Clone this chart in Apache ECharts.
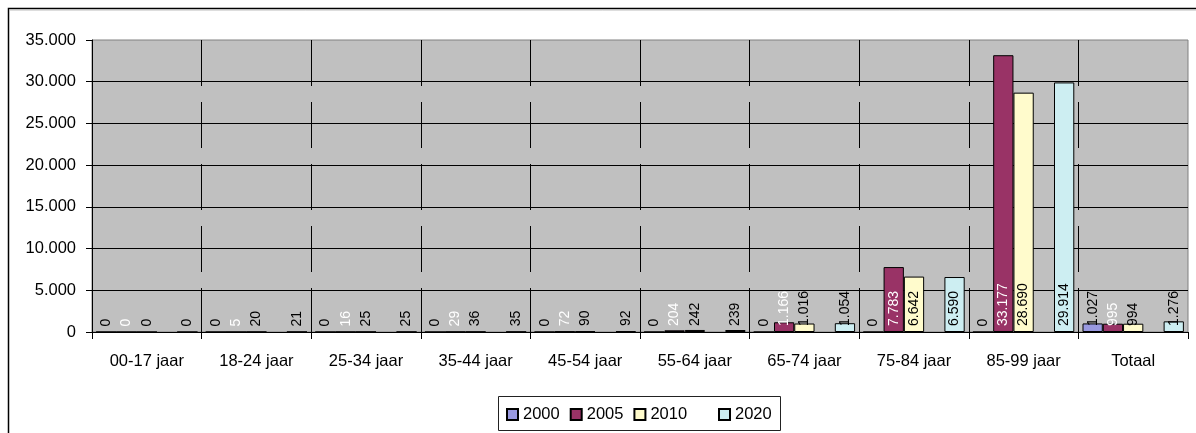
<!DOCTYPE html>
<html>
<head>
<meta charset="utf-8">
<script src="https://cdn.jsdelivr.net/npm/echarts@6/dist/echarts.min.js"></script>
<style>
html,body{margin:0;padding:0;background:#fff;}
#c{width:1196px;height:433px;}
</style>
</head>
<body>
<div id="c"></div>
<script>
const categories = ['00-17 jaar','18-24 jaar','25-34 jaar','35-44 jaar','45-54 jaar','55-64 jaar','65-74 jaar','75-84 jaar','85-99 jaar','Totaal'];
const s2000 = [0,0,0,0,0,0,0,0,0,1027];
const s2005 = [0,5,16,29,72,204,1166,7783,33177,995];
const s2010 = [0,20,25,36,90,242,1016,6642,28690,994];
const sBlank = ['-','-','-','-','-','-','-','-','-','-'];
const s2020 = [0,21,25,35,92,239,1054,6590,29914,1276];
const yTicks = [0,5000,10000,15000,20000,25000,30000,35000];

const FONT = "'Liberation Sans', Arial, sans-serif";
function fmt(v){
  return String(Math.round(v)).replace(/\B(?=(\d{3})+(?!\d))/g, '.');
}
function mkSeries(name, data, color, labelColor){
  return {
    name: name, type: 'bar', data: data,
    barGap: '0%', barCategoryGap: '7.5%',
    itemStyle: {color: color, borderColor: '#000', borderWidth: 1},
    emphasis: {disabled: true},
    label: {
      show: true, rotate: 90, position: 'insideBottom', align: 'left', verticalAlign: 'middle',
      distance: 6, fontSize: 14, fontFamily: FONT, color: labelColor,
      formatter: p => fmt(p.value)
    }
  };
}
const chart = echarts.init(document.getElementById('c'));
chart.setOption({
  animation: false,
  backgroundColor: '#fff',
  grid: {left: 92, top: 40, right: 8, bottom: 101, show: true, backgroundColor: '#c0c0c0', borderColor: '#808080', borderWidth: 1},
  xAxis: {
    type: 'category', data: categories,
    axisLine: {lineStyle: {color: '#000', width: 1}},
    axisTick: {show: true, length: 7, lineStyle: {color: '#000'}},
    axisLabel: {interval: 0, fontSize: 16.5, fontFamily: FONT, color: '#000', margin: 21},
    splitLine: {show: true, showMinLine: false, showMaxLine: false, lineStyle: {color: '#000', width: 1, type: [46, 16]}}
  },
  yAxis: {
    type: 'value', min: yTicks[0], max: yTicks[yTicks.length-1], interval: yTicks[1]-yTicks[0],
    axisLine: {show: true, lineStyle: {color: '#000'}},
    axisTick: {show: true, length: 6, lineStyle: {color: '#000'}},
    axisLabel: {fontSize: 16.5, fontFamily: FONT, color: '#000', margin: 16, formatter: v => fmt(v)},
    splitLine: {show: true, showMaxLine: false, lineStyle: {color: '#000', width: 1}}
  },
  legend: [
    {data: ['2000','2005','2010'], left: 506, top: 406, padding: 0, itemWidth: 11, itemHeight: 11, itemGap: 10, icon: 'rect', selectedMode: false,
     textStyle: {fontSize: 16.5, fontFamily: FONT, color: '#000'}},
    {data: ['2020'], left: 718, top: 406, padding: 0, itemWidth: 11, itemHeight: 11, icon: 'rect', selectedMode: false,
     textStyle: {fontSize: 16.5, fontFamily: FONT, color: '#000'}}
  ],
  graphic: [
    {type: 'polyline', silent: true, shape: {points: [[8.5, 433], [8.5, 8.5], [1196, 8.5]]}, style: {stroke: '#000', lineWidth: 1.5, fill: null}},
    {type: 'line', silent: true, shape: {x1: 9, y1: 10, x2: 1196, y2: 10}, style: {stroke: '#bbb', lineWidth: 1}},
    {type: 'rect', silent: true, shape: {x: 498.5, y: 396.5, width: 282, height: 34}, style: {stroke: '#222', lineWidth: 1, fill: null}}
  ],
  series: [
    mkSeries('2000', s2000, '#9999E0', '#000'),
    mkSeries('2005', s2005, '#993366', '#fff'),
    mkSeries('2010', s2010, '#FFFBCC', '#000'),
    mkSeries('', sBlank, '#660066', '#000'),
    mkSeries('2020', s2020, '#CDEEF2', '#000')
  ]
});
</script>
</body>
</html>
